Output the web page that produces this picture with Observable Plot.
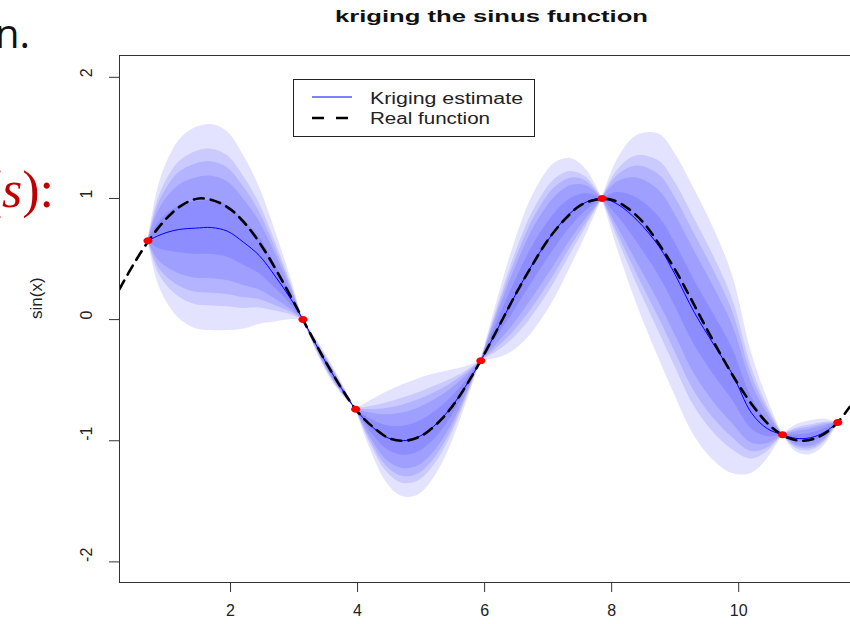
<!DOCTYPE html>
<html><head><meta charset="utf-8">
<script src="https://cdn.jsdelivr.net/npm/d3@7"></script>
<script src="https://cdn.jsdelivr.net/npm/@observablehq/plot@0.6"></script>
<style>
html,body{margin:0;padding:0;background:#fff;}
#wrap{position:relative;width:850px;height:624px;overflow:hidden;background:#fff;}
#overlay{position:absolute;left:0;top:0;pointer-events:none;}
</style></head><body><div id="wrap"></div>
<script>
// ---- chart values ----
const title = "kriging the sinus function";
const yLabel = "sin(x)";
const legendLabels = ["Kriging estimate", "Real function"];
const xTicks = [2, 4, 6, 8, 10];
const yTicks = [-2, -1, 0, 1, 2];
const xDomain = [0.252, 11.76];
const yDomain = [-2.17, 2.18];

// observations (red points)
const obsX = [0.7, 3.14, 3.97, 5.94, 7.85, 10.69, 11.56];
const obsY = [0.65, 0.0, -0.74, -0.34, 1.0, -0.95, -0.85];

// kriging prediction grid, mean and outer (99%) half-width of the bands
const gridX = [0.7,0.85,1.0,1.2,1.45,1.7,1.95,2.2,2.45,2.7,2.95,3.14,
  3.35,3.55,3.75,3.97,
  4.2,4.45,4.7,4.95,5.2,5.45,5.7,5.94,
  6.2,6.45,6.7,6.9,7.1,7.35,7.6,7.85,
  8.1,8.4,8.75,9.0,9.3,9.6,9.9,10.2,10.45,10.69,
  10.9,11.13,11.35,11.56];
const krigMean = [0.65,0.69,0.72,0.745,0.755,0.76,0.73,0.64,0.53,0.36,0.17,0.0,
  -0.21,-0.40,-0.57,-0.74,
  -0.87,-0.97,-1.0,-0.97,-0.88,-0.74,-0.55,-0.34,
  -0.08,0.17,0.41,0.58,0.73,0.88,0.97,1.0,
  0.95,0.82,0.6,0.37,0.06,-0.2,-0.45,-0.77,-0.9,-0.95,
  -0.98,-0.975,-0.93,-0.85];
const bandHW99 = [0,0.38,0.58,0.74,0.83,0.85,0.82,0.72,0.57,0.38,0.17,0,
  0.05,0.07,0.05,0,
  0.2,0.37,0.46,0.48,0.43,0.32,0.16,0,
  0.24,0.43,0.55,0.58,0.56,0.45,0.27,0,
  0.38,0.7,0.93,1.0,1.02,0.96,0.82,0.5,0.25,0,
  0.11,0.14,0.11,0];
// band levels 99%, 95%, 90%, 80%, 50% as normal quantiles
const bandZ = [2.576, 1.960, 1.645, 1.282, 0.674];

// real function (dashed)
const realX = [0.25,0.5,0.75,1.0,1.25,1.5,1.75,2.0,2.25,2.5,2.75,3.0,3.25,3.5,3.75,4.0,4.25,4.5,4.75,5.0,5.25,5.5,5.75,6.0,6.25,6.5,6.75,7.0,7.25,7.5,7.75,8.0,8.25,8.5,8.75,9.0,9.25,9.5,9.75,10.0,10.25,10.5,10.75,11.0,11.25,11.5,11.75];
const realY = [0.25,0.48,0.68,0.84,0.95,1.0,0.98,0.91,0.78,0.60,0.38,0.14,-0.11,-0.35,-0.57,-0.76,-0.89,-0.98,-1.0,-0.96,-0.86,-0.71,-0.51,-0.28,-0.03,0.22,0.45,0.66,0.82,0.94,0.99,0.99,0.92,0.80,0.62,0.41,0.17,-0.08,-0.32,-0.54,-0.73,-0.88,-0.97,-1.0,-0.97,-0.88,-0.72];

// ---- build tables ----
const segs = [];
let cur = [];
gridX.forEach((x, i) => {
  const p = {x, m: krigMean[i], h: bandHW99[i]};
  cur.push(p);
  if (i > 0 && bandHW99[i] === 0 && i < gridX.length - 1) { segs.push(cur); cur = [p]; }
});
segs.push(cur);
const zMax = bandZ[0];
const bandMarks = bandZ.map(z => {
  const data = segs.flatMap((s, si) => s.map(p => ({x: p.x, lo: p.m - p.h * z / zMax, hi: p.m + p.h * z / zMax, seg: si})));
  return Plot.areaY(data, {x: "x", y1: "lo", y2: "hi", z: "seg", fill: "blue", fillOpacity: 0.11, curve: "catmull-rom"});
});
const meanData = gridX.map((x, i) => ({x, y: krigMean[i]}));
const realData = realX.map((x, i) => ({x, y: realY[i]}));
const obsData = obsX.map((x, i) => ({x, y: obsY[i]}));

const ellipse = {
  draw(ctx, size) {
    const r = Math.sqrt(size / Math.PI), rx = r * 1.2, ry = r * 0.92, k = 0.5523;
    ctx.moveTo(rx, 0);
    ctx.bezierCurveTo(rx, ry * k, rx * k, ry, 0, ry);
    ctx.bezierCurveTo(-rx * k, ry, -rx, ry * k, -rx, 0);
    ctx.bezierCurveTo(-rx, -ry * k, -rx * k, -ry, 0, -ry);
    ctx.bezierCurveTo(rx * k, -ry, rx, -ry * k, rx, 0);
    ctx.closePath();
  }
};

const chart = Plot.plot({
  width: 850, height: 624,
  marginLeft: 119, marginRight: 0, marginTop: 55, marginBottom: 42,
  style: {fontFamily: "'Liberation Sans', Arial, sans-serif", color: "#222", background: "white"},
  x: {domain: xDomain, label: null},
  y: {domain: yDomain, label: null},
  marks: [
    ...bandMarks,
    Plot.line(meanData, {x: "x", y: "y", stroke: "blue", strokeWidth: 1, curve: "catmull-rom"}),
    Plot.line(realData, {x: "x", y: "y", stroke: "black", strokeWidth: 2.6, strokeDasharray: "10,7", curve: "catmull-rom", clip: true}),
    Plot.dot(obsData, {x: "x", y: "y", fill: "red", r: 3.8, symbol: ellipse}),
    Plot.ruleX([xDomain[0]], {stroke: "#333", strokeWidth: 1}),
    Plot.ruleY(yDomain, {stroke: "#333", strokeWidth: 1}),
    Plot.axisX({ticks: xTicks, tickSize: 10, tickPadding: 12, fontSize: 16, stroke: "#333", label: null}),
    Plot.axisY({ticks: yTicks, tickSize: 10, tickFormat: () => "", stroke: "#333", label: null}),
    Plot.text(yTicks, {y: d => d, text: d => String(d), frameAnchor: "left", dx: -33, rotate: -90, fontSize: 16, fill: "#222"}),
    Plot.text([yLabel], {text: d => d, frameAnchor: "left", dx: -83, rotate: -90, fontSize: 17, fill: "#222"})
  ]
});
const wrap = document.getElementById("wrap");
wrap.appendChild(chart);

// ---- overlay: title, legend and slide fragments ----
const ns = "http://www.w3.org/2000/svg";
const ov = document.createElementNS(ns, "svg");
ov.setAttribute("id", "overlay");
ov.setAttribute("width", 850); ov.setAttribute("height", 624);
function el(tag, attrs, text) {
  const e = document.createElementNS(ns, tag);
  for (const k in attrs) e.setAttribute(k, attrs[k]);
  if (text != null) e.textContent = text;
  ov.appendChild(e);
  return e;
}
el("text", {x: 491.5, y: 22, "text-anchor": "middle", "font-family": "'Liberation Sans', Arial, sans-serif", "font-weight": "bold", "font-size": 17, fill: "#111", textLength: 313, lengthAdjust: "spacingAndGlyphs"}, title);
el("rect", {x: 293.5, y: 79.5, width: 241, height: 57, fill: "white", stroke: "#222", "stroke-width": 1});
el("line", {x1: 312, x2: 352, y1: 97, y2: 97, stroke: "blue", "stroke-width": 1});
el("line", {x1: 312, x2: 348, y1: 118, y2: 118, stroke: "black", "stroke-width": 2.6, "stroke-dasharray": "12,12"});
el("text", {x: 370, y: 104, "font-family": "'Liberation Sans', Arial, sans-serif", "font-size": 16, fill: "#222", textLength: 153, lengthAdjust: "spacingAndGlyphs"}, legendLabels[0]);
el("text", {x: 370, y: 124, "font-family": "'Liberation Sans', Arial, sans-serif", "font-size": 16, fill: "#222", textLength: 120, lengthAdjust: "spacingAndGlyphs"}, legendLabels[1]);
// slide fragments at the left edge
el("text", {x: 30, y: 48, "text-anchor": "end", "font-family": "'Open Sans', 'Liberation Sans', sans-serif", "font-size": 40, fill: "#111"}, "n.");
const red = el("text", {x: 54, y: 207, "text-anchor": "end", "font-family": "'Liberation Serif', serif", "font-size": 52, fill: "#c00000"});
const t1 = document.createElementNS(ns, "tspan"); t1.textContent = "("; red.appendChild(t1);
const t2 = document.createElementNS(ns, "tspan"); t2.setAttribute("font-style", "italic"); t2.textContent = "s"; red.appendChild(t2);
const t3 = document.createElementNS(ns, "tspan"); t3.textContent = "):"; red.appendChild(t3);
wrap.appendChild(ov);
</script>
</body></html>
